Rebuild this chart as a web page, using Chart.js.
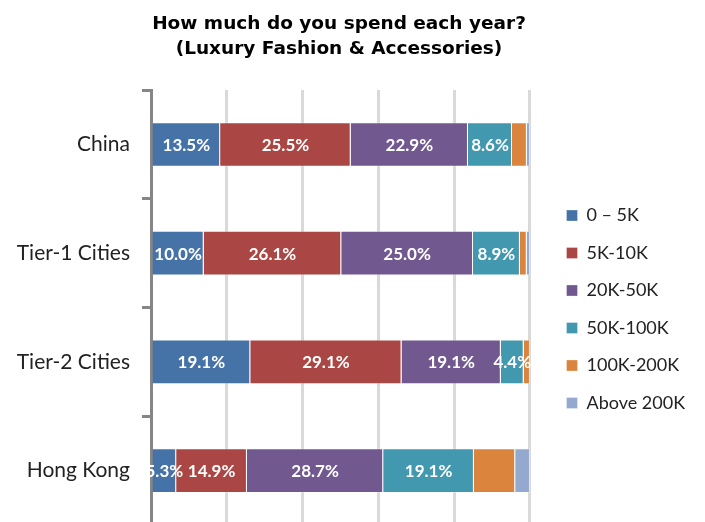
<!DOCTYPE html>
<html>
<head>
<meta charset="utf-8">
<script src="https://cdn.jsdelivr.net/npm/chart.js@4"></script>
<style>
html,body{margin:0;padding:0;background:#fff;overflow:hidden;}
#wrap{position:relative;width:705px;height:530px;}
</style>
</head>
<body>
<div id="wrap"><canvas id="c" width="705" height="530"></canvas></div>
<script>
const categories = ["China", "Tier-1 Cities", "Tier-2 Cities", "Hong Kong"];
const seriesNames = ["0 \u2013 5K", "5K-10K", "20K-50K", "50K-100K", "100K-200K", "Above 200K"];
const s0to5K     = [13.5, 10.0, 19.1, 5.3];
const s5Kto10K   = [25.5, 26.1, 29.1, 14.9];
const s20Kto50K  = [22.9, 25.0, 19.1, 28.7];
const s50Kto100K = [8.6, 8.9, 4.4, 19.1];
const s100Kto200K= [2.9, 1.3, 1.2, 8.7];
const sAbove200K = [0.6, 0.6, 0.0, 3.1];
const labelledSeries = [true, true, true, true, false, false];
const colors = ["#4572A7", "#AA4643", "#71588F", "#4198AF", "#DB843D", "#93A9CF"];

const allSeries = [s0to5K, s5Kto10K, s20Kto50K, s50Kto100K, s100Kto200K, sAbove200K];
const totals = categories.map((_, i) => allSeries.reduce((a, s) => a + s[i], 0));

const FONT = "'Century Gothic', 'Lato', sans-serif";
const TITLE_FONT = "'Century Gothic', 'DejaVu Sans', sans-serif";

const labelPlugin = {
  id: 'segLabels',
  afterDatasetsDraw(chart) {
    const ctx = chart.ctx;
    ctx.save();
    ctx.font = "bold 17px " + FONT;
    ctx.fillStyle = "#fff";
    ctx.textAlign = "center";
    ctx.textBaseline = "middle";
    chart.data.datasets.forEach((ds, di) => {
      if (!labelledSeries[di]) return;
      const meta = chart.getDatasetMeta(di);
      meta.data.forEach((el, i) => {
        const v = ds.raw[i];
        const cx = (el.x + el.base) / 2;
        ctx.fillText(v.toFixed(1) + "%", cx, el.y + 1);
      });
    });
    ctx.restore();
  }
};

// place the legend column where the reference has it
const legendPlace = {
  id: 'legendPlace',
  afterLayout(chart) {
    const L = chart.legend;
    if (!L) return;
    const w = L.width, h = L.height;
    L.left = 547; L.right = 547 + w;
    L.top = 187; L.bottom = 187 + h;
  }
};

new Chart(document.getElementById('c'), {
  type: 'bar',
  data: {
    labels: categories,
    datasets: allSeries.map((s, k) => ({
      label: seriesNames[k],
      raw: s,
      data: s.map((v, i) => v / totals[i] * 100),
      backgroundColor: colors[k],
      borderColor: "rgba(255,255,255,0.3)",
      borderWidth: 1,
      categoryPercentage: 1.0,
      barPercentage: 0.41
    }))
  },
  options: {
    indexAxis: 'y',
    responsive: false,
    animation: false,
    layout: { padding: { left: 0, right: 27, top: 0, bottom: 5 } },
    scales: {
      x: {
        stacked: true,
        min: 0, max: 100,
        ticks: { display: false, stepSize: 20 },
        grid: { color: "#d9d9d9", lineWidth: 3, drawTicks: false },
        border: { display: false }
      },
      y: {
        stacked: true,
        afterFit(scale) { scale.width = 151; scale.paddingTop = 0; scale.paddingBottom = 0; },
        ticks: { color: "#222", font: { family: FONT, size: 21 }, padding: 12 },
        grid: { offset: true, drawOnChartArea: false, tickLength: 9, color: "#868686", lineWidth: 3 },
        border: { display: true, color: "#868686", width: 3 }
      }
    },
    plugins: {
      tooltip: { enabled: false },
      title: {
        display: true,
        text: ["How much do you spend each year?", "(Luxury Fashion & Accessories)"],
        color: "#000",
        font: { family: TITLE_FONT, size: 18.5, weight: 'bold', lineHeight: 1.38 },
        padding: { top: 11, bottom: 28 }
      },
      legend: {
        position: 'right',
        align: 'start',
        labels: {
          color: "#222",
          font: { family: FONT, size: 18 },
          boxWidth: 11,
          boxHeight: 11,
          padding: 19.5
        }
      }
    }
  },
  plugins: [labelPlugin, legendPlace]
});
</script>
</body>
</html>
